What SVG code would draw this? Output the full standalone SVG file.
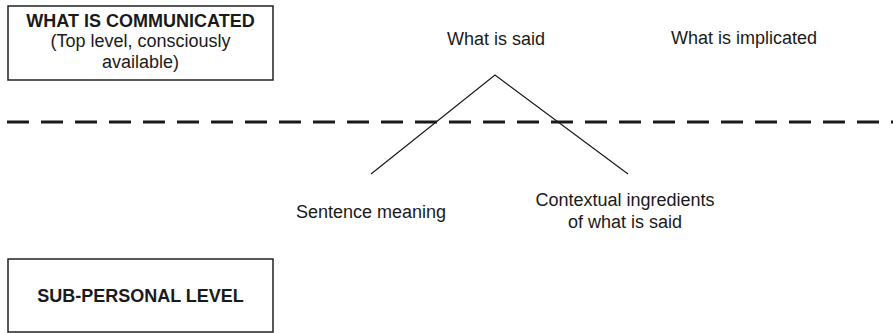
<svg xmlns="http://www.w3.org/2000/svg" width="893" height="333" viewBox="0 0 893 333">
<style>
text{font-family:"Liberation Sans",Arial,sans-serif;font-size:18px;fill:#1a1a1a;text-anchor:middle}
.b{font-weight:bold}
.box{fill:#fff;stroke:#222;stroke-width:1.5}
.ln{stroke:#1a1a1a;stroke-width:1.2;fill:none}
.dash{stroke:#1a1a1a;stroke-width:3;stroke-dasharray:22 12;fill:none}
</style>
<rect width="893" height="333" fill="#fff"/>
<g id="top-level">
<rect class="box" x="8" y="6" width="265" height="74"/>
<text class="b" x="140.5" y="27">WHAT IS COMMUNICATED</text>
<text x="140.5" y="47">(Top level, consciously</text>
<text x="140.5" y="68">available)</text>
</g>
<g id="sub-personal">
<rect class="box" x="8" y="259" width="265" height="73"/>
<text class="b" x="140.5" y="302">SUB-PERSONAL LEVEL</text>
</g>
<g id="what-is-said"><text x="496" y="45">What is said</text></g>
<g id="what-is-implicated"><text x="744" y="44">What is implicated</text></g>
<g id="sentence-meaning"><text x="371" y="218">Sentence meaning</text></g>
<g id="contextual"><text x="625" y="206">Contextual ingredients</text><text x="625" y="228">of what is said</text></g>
<g id="connectors">
<line class="dash" x1="7" y1="122" x2="893" y2="122"/>
<polyline class="ln" points="371,174 495,75 628,174"/>
</g>
</svg>
